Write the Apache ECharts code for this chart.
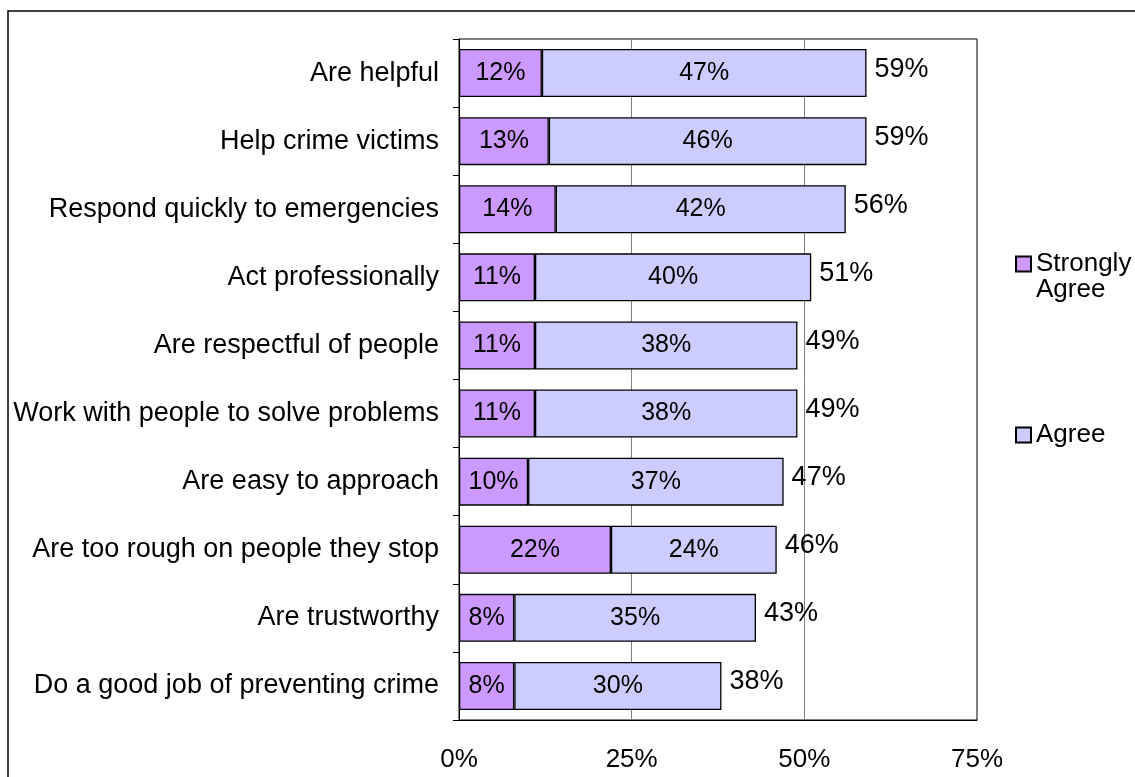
<!DOCTYPE html>
<html>
<head>
<meta charset="utf-8">
<script src="https://cdn.jsdelivr.net/npm/echarts@6/dist/echarts.min.js"></script>
<style>
  html, body { margin: 0; padding: 0; background: #fff; }
  #chart { width: 1135px; height: 777px; }
</style>
</head>
<body>
<div id="chart"></div>
<script>
// Survey statements, top to bottom
const categories = [
  'Are helpful',
  'Help crime victims',
  'Respond quickly to emergencies',
  'Act professionally',
  'Are respectful of people',
  'Work with people to solve problems',
  'Are easy to approach',
  'Are too rough on people they stop',
  'Are trustworthy',
  'Do a good job of preventing crime'
];
// Percent of respondents
const stronglyAgree = [12, 13, 14, 11, 11, 11, 10, 22, 8, 8];
const agree = [47, 46, 42, 40, 38, 38, 37, 24, 35, 30];
const totals = [59, 59, 56, 51, 49, 49, 47, 46, 43, 38];
const xTicks = [0, 25, 50, 75];

const FONT = 'Liberation Sans, Arial, sans-serif';
const chart = echarts.init(document.getElementById('chart'), null, { renderer: 'canvas' });

const insideLabel = {
  show: true,
  position: 'inside',
  formatter: p => p.value + '%',
  color: '#000',
  fontFamily: FONT,
  fontSize: 25
};

chart.setOption({
  animation: false,
  backgroundColor: '#fff',
  graphic: [{
    type: 'rect',
    shape: { x: 8, y: 11, width: 1200, height: 800 },
    style: { fill: 'none', stroke: '#000', lineWidth: 1.5 },
    silent: true,
    z: 100
  }],
  grid: {
    left: 459, right: 158, top: 39, bottom: 57,
    show: true, borderColor: '#000', borderWidth: 1, backgroundColor: 'transparent'
  },
  legend: [{
    data: ['Strongly Agree'],
    orient: 'vertical',
    left: 1010, top: 220,
    itemWidth: 15, itemHeight: 15,
    icon: 'rect',
    // empty first line keeps the marker level with "Strongly"
    formatter: () => '\nStrongly\nAgree',
    textStyle: { fontFamily: FONT, fontSize: 26, color: '#000', lineHeight: 26 }
  }, {
    data: ['Agree'],
    orient: 'vertical',
    left: 1010, top: 417,
    itemWidth: 15, itemHeight: 15,
    icon: 'rect',
    textStyle: { fontFamily: FONT, fontSize: 26, color: '#000', lineHeight: 26 }
  }],
  xAxis: {
    type: 'value',
    min: xTicks[0], max: xTicks[xTicks.length - 1], interval: 25,
    axisLine: { show: true, lineStyle: { color: '#000', width: 1 } },
    axisTick: { show: false },
    splitLine: { show: true, lineStyle: { color: '#808080', width: 1 } },
    axisLabel: {
      formatter: v => v + '%',
      margin: 27,
      color: '#000', fontFamily: FONT, fontSize: 26
    }
  },
  yAxis: {
    type: 'category',
    data: categories,
    inverse: true,
    axisLine: { show: true, lineStyle: { color: '#000', width: 1 } },
    axisTick: { show: true, interval: 0, length: 6, lineStyle: { color: '#000' } },
    axisLabel: { margin: 20, color: '#000', fontFamily: FONT, fontSize: 27 }
  },
  series: [{
    name: 'Strongly Agree',
    type: 'bar',
    stack: 'total',
    barWidth: 48,
    data: stronglyAgree,
    itemStyle: { color: '#CC99FF', borderColor: '#000', borderWidth: 1.3 },
    label: insideLabel
  }, {
    name: 'Agree',
    type: 'bar',
    stack: 'total',
    barWidth: 48,
    data: agree,
    itemStyle: { color: '#CCCCFF', borderColor: '#000', borderWidth: 1.3 },
    label: insideLabel
  }, {
    name: 'Total',
    type: 'bar',
    stack: 'total',
    barWidth: 48,
    data: totals.map(() => 0),
    itemStyle: { color: 'transparent', borderWidth: 0 },
    label: {
      show: true,
      position: 'right',
      distance: 8,
      offset: [0, -4],
      formatter: p => totals[p.dataIndex] + '%',
      color: '#000', fontFamily: FONT, fontSize: 27
    },
    silent: true
  }]
});
</script>
</body>
</html>
